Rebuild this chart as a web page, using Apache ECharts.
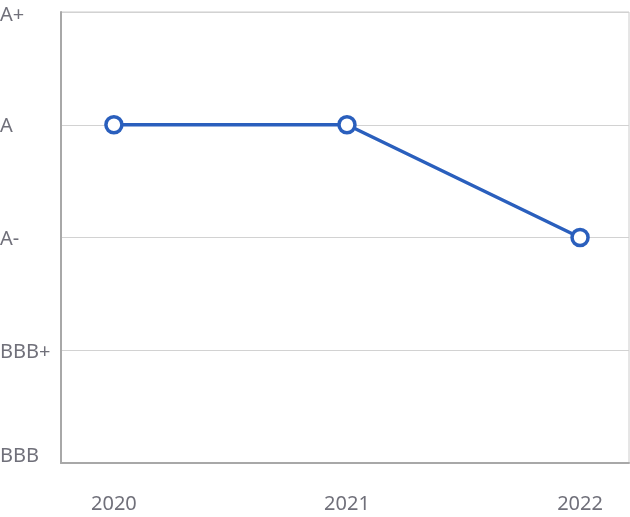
<!DOCTYPE html>
<html><head><meta charset="utf-8">
<script src="https://cdn.jsdelivr.net/npm/echarts@6/dist/echarts.min.js"></script>
<style>html,body{margin:0;padding:0;background:#fff}#c{width:630px;height:517px}</style>
</head><body><div id="c"></div>
<script>
const years = [2020, 2021, 2022];
const ratingLabels = ['BBB', 'BBB+', 'A-', 'A', 'A+'];
const ratings = ['A', 'A', 'A-'];

const chart = echarts.init(document.getElementById('c'));
const font = '"Noto Sans", sans-serif';
chart.setOption({
  animation: false,
  grid: { left: 61, right: 1, top: 12, bottom: 54, show: true, borderColor: '#cccccc', borderWidth: 1, containLabel: false, outerBoundsMode: 'none' },
  xAxis: {
    type: 'value', min: 2019.773, max: 2022.21,
    axisLine: { show: true, lineStyle: { color: '#a8a8a8', width: 2 } },
    axisTick: { show: false },
    splitLine: { show: false },
    axisLabel: { customValues: years, margin: 31, fontSize: 20, color: '#70707a', fontFamily: font, formatter: v => String(Math.round(v)) }
  },
  yAxis: {
    type: 'value', min: 0, max: ratingLabels.length - 1, interval: 1,
    axisLine: { show: true, lineStyle: { color: '#a8a8a8', width: 2 } },
    axisTick: { show: false },
    splitLine: { show: true, lineStyle: { color: '#d2d2d2', width: 1 } },
    axisLabel: {
      margin: 61, align: 'left', fontSize: 20, color: '#70707a', fontFamily: font,
      formatter: v => {
        const t = ratingLabels[v];
        if (v === 0) return '{b|' + t + '}';
        if (v === ratingLabels.length - 1) return '{t|' + t + '}';
        return '{m|' + t + '}';
      },
      rich: {
        b: { fontSize: 20, color: '#70707a', fontFamily: font, padding: [0, 0, 14, 0] },
        t: { fontSize: 20, color: '#70707a', fontFamily: font, padding: [6, 0, 0, 0] },
        m: { fontSize: 20, color: '#70707a', fontFamily: font, padding: [4, 0, 0, 0] }
      }
    }
  },
  series: [{
    type: 'line',
    data: years.map((y, i) => [y, ratingLabels.indexOf(ratings[i])]),
    lineStyle: { color: '#2a5fbd', width: 3.5 },
    symbol: 'circle', symbolSize: 16,
    itemStyle: { color: '#ffffff', borderColor: '#2a5fbd', borderWidth: 3.5 }
  }]
});
</script></body></html>
